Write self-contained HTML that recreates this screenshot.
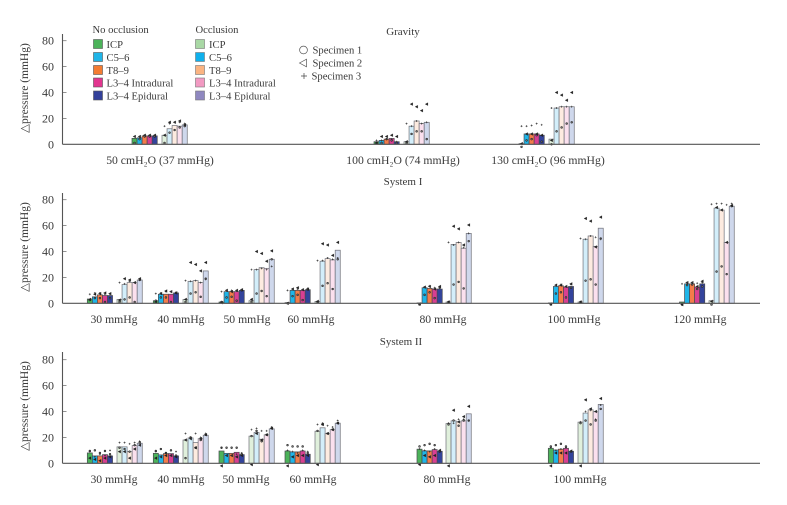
<!DOCTYPE html>
<html lang="en">
<head>
<meta charset="utf-8">
<title>Pressure chart</title>
<style>
html,body{margin:0;padding:0;background:#fff;}
svg{display:block;filter:blur(.3px);}
text{font-family:"Liberation Serif","DejaVu Serif",serif;fill:#3a3a3a;}
</style>
</head>
<body>
<svg id="chart" width="787" height="505" viewBox="0 0 787 505" xmlns="http://www.w3.org/2000/svg">
  <g font-size="10.6">
    <text x="92.500" y="33">No occlusion</text>
    <text x="195.500" y="33">Occlusion</text>
    <g><rect x="93.500" y="39.500" width="9" height="9" fill="#4cb35a" stroke="#555" stroke-width=".6"/><text x="106.500" y="48">ICP</text></g>
    <g><rect x="93.500" y="52.500" width="9" height="9" fill="#1fb5e8" stroke="#555" stroke-width=".6"/><text x="106.500" y="61">C5–6</text></g>
    <g><rect x="93.500" y="65.500" width="9" height="9" fill="#f47c32" stroke="#555" stroke-width=".6"/><text x="106.500" y="74">T8–9</text></g>
    <g><rect x="93.500" y="78" width="9" height="9" fill="#e2358f" stroke="#555" stroke-width=".6"/><text x="106.500" y="86.500">L3–4 Intradural</text></g>
    <g><rect x="93.500" y="91" width="9" height="9" fill="#33409a" stroke="#555" stroke-width=".6"/><text x="106.500" y="99.500">L3–4 Epidural</text></g>
    <g><rect x="195.500" y="39.500" width="9" height="9" fill="#a9d8a5" stroke="#777" stroke-width=".6"/><text x="209" y="48">ICP</text></g>
    <g><rect x="195.500" y="52.500" width="9" height="9" fill="#0fb0ec" stroke="#777" stroke-width=".6"/><text x="209" y="61">C5–6</text></g>
    <g><rect x="195.500" y="65.500" width="9" height="9" fill="#fbb482" stroke="#777" stroke-width=".6"/><text x="209" y="74">T8–9</text></g>
    <g><rect x="195.500" y="78" width="9" height="9" fill="#f29ac2" stroke="#777" stroke-width=".6"/><text x="209" y="86.500">L3–4 Intradural</text></g>
    <g><rect x="195.500" y="91" width="9" height="9" fill="#8f88c0" stroke="#777" stroke-width=".6"/><text x="209" y="99.500">L3–4 Epidural</text></g>
    <g><circle cx="303.500" cy="50" r="3.900" fill="#fff" stroke="#555" stroke-width=".7"/><text x="312.500" y="53.500">Specimen 1</text></g>
    <g><path d="M299.500 63 L306.500 59.200 L306.500 66.800 Z" fill="#fff" stroke="#555" stroke-width=".7"/><text x="312.500" y="66.500">Specimen 2</text></g>
    <g><path d="M301 76 H307 M304 73 V79" stroke="#444" stroke-width=".7" fill="none"/><text x="311.500" y="79.500">Specimen 3</text></g>
  </g>
</svg>
<script>
/* ---------- Values (mmHg). Each group: 5 no-occlusion then 5 occlusion sites ---------- */
const tickLabels = [0, 20, 40, 60, 80];
const panelTitles = ["Gravity", "System I", "System II"];

const gravityCategories = ["50 cmH₂O (37 mmHg)", "100 cmH₂O (74 mmHg)", "130 cmH₂O (96 mmHg)"];
const gravityBars = [
  [4.6, 5, 6.5, 6.5, 6.5, 7, 12, 14.5, 14, 15],
  [2, 3, 4, 4.5, 2, 2, 14, 18, 16, 17],
  [0.5, 8, 8, 8, 7, 4, 28, 29, 29, 29]
];
const gravitySpecimen1 = [
  [1, 4, 6, 6, 6, 1, 9, 11, 13, 14],
  [1, 1, 4, 3, 1, 1, 8, 10, 10, 4],
  [-2, 3, 4, 7, 2, 0, 10, 13, 16, 17]
];
const gravitySpecimen2 = [
  [6, 6, 7, 7, 7, 7, 17, 17, 18, 15],
  [1, 6, 6, 7, 6, 2, 31, 29, 26, 31],
  [0.5, 8, 8, 8, 7, 3, 40, 38, 34, 40]
];
const gravitySpecimen3 = [
  [6, 6, 7, 7, 7, 14, 16, 17, 17, 16],
  [3, 3, 4, 4, 2, 16, 14, 18, 16, 17],
  [14, 14, 14.5, 16, 15, 28, 28, 29, 29, 29]
];

const system1Categories = ["30 mmHg", "40 mmHg", "50 mmHg", "60 mmHg", "80 mmHg", "100 mmHg", "120 mmHg"];
const system1Bars = [
  [3.3, 5, 6.5, 6, 6, 3, 14.5, 16, 16, 18],
  [2, 7, 7, 7, 8, 3, 17, 17.5, 16, 25],
  [1, 9, 9, 9, 10, 2, 26, 27.5, 27, 34],
  [0.5, 10, 10, 10, 10.5, 1.5, 32.5, 34.5, 33.5, 41],
  [0.3, 12, 11.5, 11, 11, 1, 45.5, 47, 42.500, 54],
  [0.3, 13, 13.5, 12.5, 13, 1, 49.5, 52, 44, 58],
  [1, 15, 15, 12.5, 15, 2, 73.5, 72, 47, 75]
];
const system1Specimen1 = [
  [2.5, 4, 4, 1, 4, 1, 3, 4.5, 1, 18],
  [2, 4.5, 4.5, 1, 8, 1, 7.5, 8.5, 5, 19],
  [1, 4.5, 5, 2, 10, 1, 7.5, 9.5, 5.5, 34],
  [0, 5.5, 6.5, 2.5, 10.5, 1, 13.5, 15.5, 11, 34],
  [-1, 6.5, 8.5, 4, 12, 1, 14.5, 16.5, 11.5, 48],
  [-1, 7.5, 8.5, 4.5, 12, 1, 17.5, 18.5, 14.5, 50],
  [-1, 14, 14.5, 11, 13, -1, 24.5, 28.5, 22.5, 75]
];
const system1Specimen2 = [
  [3, 7, 7.5, 8, 7.5, 2.5, 19, 18, 16, 19],
  [1, 7.5, 9.5, 9, 8, 3, 31.5, 30, 25, 31.5],
  [0.5, 10, 9, 10, 10.5, 3, 40, 38.5, 32.5, 40.5],
  [0, 11, 12, 10.5, 11, 1.5, 46, 45, 37, 47],
  [-0.5, 12.5, 13, 11, 13, 1, 59.5, 57.5, 45, 60.5],
  [-0.5, 14, 14, 13, 15, 1, 65.5, 63.5, 43.5, 66.5],
  [-1, 16, 16, 13, 17, 1.5, 74, 72, 47, 75.5]
];
const system1Specimen3 = [
  [7, 8, 8, 7, 7, 16, 15, 17, 16, 18],
  [7.5, 8, 9, 9, 8.5, 17.5, 17, 17.5, 16, 18.5],
  [9, 10, 10, 9.5, 10.5, 26, 26, 27, 26, 28.5],
  [10, 11, 11, 10.5, 11.5, 33, 33, 35, 34, 35],
  [-0.5, 12.5, 13.5, 12, 12.5, 47, 45, 47, 43, 54],
  [-0.5, 14, 14.5, 13, 14.5, 50, 49.5, 52, 51, 49.5],
  [15, 16, 16, 15.5, 16, 76.5, 77, 77, 76, 77]
];

const system2Categories = ["30 mmHg", "40 mmHg", "50 mmHg", "60 mmHg", "80 mmHg", "100 mmHg"];
const system2Bars = [
  [8, 5.7, 5.7, 6.7, 5.7, 12.7, 12.7, 9, 13.7, 15.5],
  [7.7, 6.5, 7.5, 7.5, 5.7, 18, 19.6, 16, 19, 21.7],
  [9.5, 7.7, 7.7, 8.5, 6.7, 21, 23.8, 18.6, 22, 26.6],
  [9.5, 8.8, 8.8, 9.5, 7, 24.8, 27.4, 23, 26, 31],
  [10.9, 9.6, 9.6, 10.6, 9.3, 30.7, 32.8, 32, 32.8, 38.2],
  [11.6, 10.3, 10.9, 11.6, 9.3, 31.8, 38.8, 41.3, 39.8, 45.5]
];
const system2Specimen1 = [
  [9.5, 10, 8, 9.5, 7, 12, 11, 9, 14, 16],
  [9.5, 11, 8, 10, 6, 4, 20, 12, 18, 22],
  [12, 12, 12, 12, 7, 21, 25, 17, 22, 27],
  [14, 13, 13, 13, 8, 25, 30, 23, 26, 31],
  [13, 14, 15, 14, 9, 30, 33, 29, 33, 33],
  [13, 14, 15, 13, 9, 31, 33, 30, 33, 42]
];
const system2Specimen2 = [
  [4, 3, 2, 4, 5, 9, 9, 4, 11, 14],
  [4, 5, 6, 6, 5, 18, 19, 12, 19, 22],
  [-2, 6, 6, 5, 6, -1, 23, 18, 22, 27],
  [-2, 5, 6, 6, 6, -1, 30, 23, 26, 31],
  [-1, 6, 5, 6, 10, -2, 41, 32, 36, 44],
  [-2, 8, 8, 8, 9.5, -2, 49, 42, 40, 50]
];
const system2Specimen3 = [
  [9, 5, 7, 6, 10, 16, 16, 15, 16, 17],
  [9, 5, 8, 6, 9, 23, 20, 23, 20, 23],
  [12, 6, 6, 7, 8, 26, 27, 25, 25, 28],
  [10, 9, 8, 10, 9, 30, 31, 29, 28, 33],
  [11, 10, 9, 11, 9, 31, 31, 34, 34, 33],
  [12, 10, 11, 12, 9.5, 32, 40, 41, 34, 45]
];

const siteNames = ["icp", "c5-6", "t8-9", "l3-4-intradural", "l3-4-epidural"];

/* ---------- Layout (pixels), kept apart from the values ---------- */
const NS = "http://www.w3.org/2000/svg";
const svg = document.getElementById("chart");
const SCALE = 1.295, BAR_W = 5.05, AXIS_X = 62.5, AXIS_END = 760;
const fillsPlain = ["#4cb35a", "#1fb5e8", "#f47c4a", "#d93f92", "#33439c"];
const fillsOccl = ["#e0f0dc", "#d3eefa", "#fdebe0", "#fbe0ee", "#cfd8ec"];

const layout = [
  { base: 144.3, top: 34, titleX: 403, titleY: 35, labelY: 164, yTitle: 88,
    starts: [[132, 162], [374, 404], [519, 549]], centers: [160, 403, 548] },
  { base: 303.3, top: 193, titleX: 403, titleY: 185, labelY: 323, yTitle: 247,
    starts: [[87.3, 117], [153.3, 183], [219, 249], [285, 315], [417, 446], [548.3, 578], [679.5, 709]],
    centers: [114, 181, 247, 311, 443, 574, 700] },
  { base: 463.3, top: 352, titleX: 401, titleY: 345, labelY: 483, yTitle: 406,
    starts: [[87.3, 117], [153.3, 183], [219, 249], [285, 315], [417, 446], [548.3, 578]],
    centers: [114, 181, 246, 313, 447, 580] }
];

const panelCategories = [gravityCategories, system1Categories, system2Categories];
const panelBars = [gravityBars, system1Bars, system2Bars];
const panelS1 = [gravitySpecimen1, system1Specimen1, system2Specimen1];
const panelS2 = [gravitySpecimen2, system1Specimen2, system2Specimen2];
const panelS3 = [gravitySpecimen3, system1Specimen3, system2Specimen3];

function make(tag, attrs, parent) {
  const el = document.createElementNS(NS, tag);
  for (const k in attrs) el.setAttribute(k, attrs[k]);
  parent.appendChild(el);
  return el;
}
function yAxis(p, v) { return layout[p].base - v * SCALE; }
function xAxis(p, g, site) {
  const occluded = site >= 5 ? 1 : 0;
  return layout[p].starts[g][occluded] + (site - occluded * 5) * BAR_W;
}

panelTitles.forEach(function (title, p) {
  const L = layout[p];
  const panel = make("g", {}, svg);
  
  

  const titleEl = make("text", { x: L.titleX, y: L.titleY, "text-anchor": "middle", "font-size": "11" }, panel);
  titleEl.textContent = title;
  
  

  const yTitle = make("text", { transform: "translate(28," + L.yTitle + ") rotate(-90)", "text-anchor": "middle", "font-size": "11.5" }, panel);
  yTitle.textContent = "△pressure (mmHg)";
  
  

  tickLabels.forEach(function (t) {
    const y = yAxis(p, t);
    if (t > 0) {
      const tick = make("line", { x1: AXIS_X, x2: AXIS_X + 4, y1: y, y2: y, stroke: "#777", "stroke-width": ".8" }, panel);
      
      
    }
    const lab = make("text", { x: 54, y: y + 4, "text-anchor": "end", "font-size": "12" }, panel);
    lab.textContent = t;
    
    
  });

  panelBars[p].forEach(function (vals, g) {
    const cat = make("text", { x: L.centers[g], y: L.labelY, "text-anchor": "middle", "font-size": "11.7" }, panel);
    cat.textContent = panelCategories[p][g];
    
    

    vals.forEach(function (v, s) {
      const occl = s >= 5;
      const rect = make("rect", {
        x: xAxis(p, g, s), y: yAxis(p, v), width: BAR_W, height: Math.max(0, v * SCALE),
        fill: occl ? fillsOccl[s - 5] : fillsPlain[s],
        stroke: occl ? "#6f7078" : "#4a4a50", "stroke-width": ".7"
      }, panel);
      
      
    });
  });

  panelBars[p].forEach(function (vals, g) {
    vals.forEach(function (v, s) {
      const cx = xAxis(p, g, s) + BAR_W / 2;
      const c = make("circle", { cx: cx, cy: yAxis(p, panelS1[p][g][s]), r: 0.9, fill: "#777", stroke: "#222", "stroke-width": ".6" }, panel);
      
      

      const ty = yAxis(p, panelS2[p][g][s]);
      const tri = make("path", { d: "M" + (cx - 1.6) + " " + ty + " L" + (cx + 1.2) + " " + (ty - 1.5) + " L" + (cx + 1.2) + " " + (ty + 1.5) + " Z", fill: "#222", stroke: "#222", "stroke-width": ".2" }, panel);
      
      

      const py = yAxis(p, panelS3[p][g][s]);
      const plus = make("path", { d: "M" + (cx - 1) + " " + py + " H" + (cx + 1) + " M" + cx + " " + (py - 1) + " V" + (py + 1), stroke: "#333", "stroke-width": ".6", fill: "none" }, panel);
      
      
    });
  });

  const xLine = make("line", { x1: AXIS_X, x2: AXIS_END, y1: L.base, y2: L.base, stroke: "#555", "stroke-width": "1.1" }, panel);
  
  

  const yLine = make("line", { x1: AXIS_X, x2: AXIS_X, y1: L.top, y2: L.base, stroke: "#555", "stroke-width": "1.1" }, panel);
  
  
});
</script>
</body>
</html>
